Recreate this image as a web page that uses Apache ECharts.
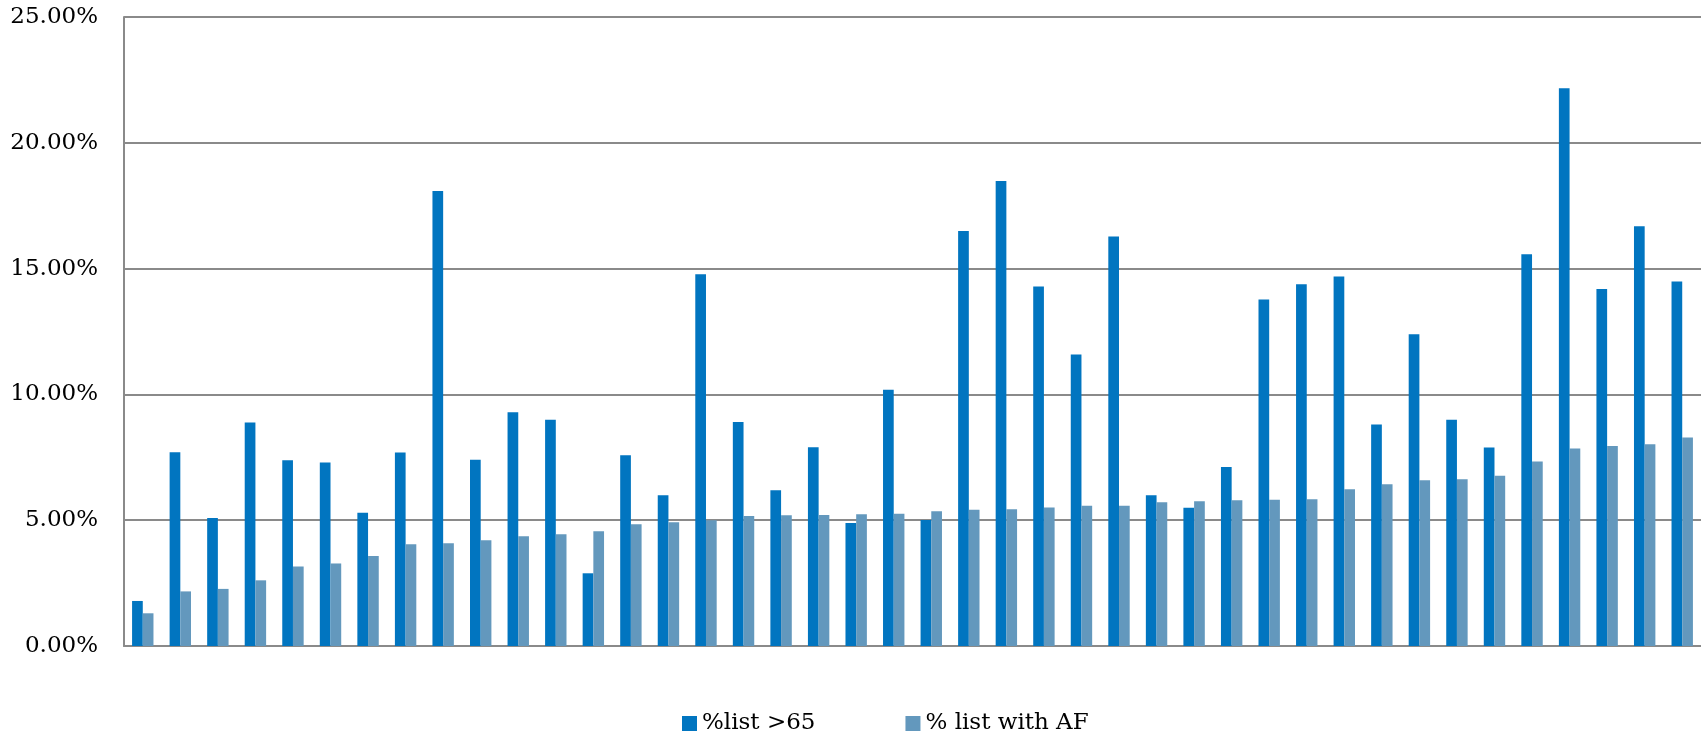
<!DOCTYPE html>
<html>
<head>
<meta charset="utf-8">
<script src="https://cdn.jsdelivr.net/npm/echarts@6/dist/echarts.min.js"></script>
<style>
html,body{margin:0;padding:0;background:#fff;}
#chart{width:1701px;height:733px;}
</style>
</head>
<body>
<div id="chart"></div>
<script>
const categories = ["1","2","3","4","5","6","7","8","9","10","11","12","13","14","15","16","17","18","19","20","21","22","23","24","25","26","27","28","29","30","31","32","33","34","35","36","37","38","39","40","41","42"];
const seriesNames = ["%list >65", "% list with AF"];
const listOver65 = [1.79,7.70,5.09,8.88,7.38,7.29,5.30,7.69,18.08,7.40,9.29,8.99,2.89,7.58,5.99,14.78,8.90,6.19,7.90,4.89,10.18,5.01,16.49,18.48,14.29,11.59,16.28,5.99,5.49,7.11,13.77,14.38,14.69,8.80,12.39,8.99,7.89,15.57,22.17,14.19,16.68,14.49];
const listWithAF = [1.30,2.17,2.27,2.61,3.16,3.28,3.58,4.04,4.08,4.20,4.36,4.44,4.56,4.84,4.92,5.00,5.17,5.20,5.21,5.24,5.26,5.36,5.42,5.44,5.50,5.57,5.57,5.71,5.75,5.79,5.81,5.83,6.23,6.43,6.59,6.63,6.77,7.33,7.85,7.95,8.02,8.29];
const yTicks = [0, 5, 10, 15, 20, 25];

const font = "'DejaVu Serif', Georgia, serif";
const chart = echarts.init(document.getElementById('chart'));
chart.setOption({
  animation: false,
  backgroundColor: '#ffffff',
  grid: { left: 124, right: 0, top: 17, bottom: 87, containLabel: false },
  legend: {
    data: seriesNames,
    left: 677,
    top: 705,
    itemWidth: 15,
    itemHeight: 15,
    itemGap: 90,
    icon: 'rect',
    textStyle: { fontFamily: font, fontSize: 23, color: '#000', lineHeight: 27 }
  },
  xAxis: {
    type: 'category',
    data: categories,
    axisLine: { show: true, lineStyle: { color: '#8a8a8a', width: 2 } },
    axisTick: { show: false },
    axisLabel: { show: false },
    splitLine: { show: false }
  },
  yAxis: {
    type: 'value',
    min: yTicks[0],
    max: yTicks[yTicks.length - 1],
    interval: 5,
    axisLine: { show: true, lineStyle: { color: '#8a8a8a', width: 2 } },
    axisTick: { show: false },
    axisLabel: {
      margin: 26,
      fontFamily: font,
      fontSize: 23,
      color: '#000',
      formatter: v => v.toFixed(2) + '%'
    },
    splitLine: { show: true, lineStyle: { color: '#8a8a8a', width: 2 } }
  },
  series: [
    {
      name: seriesNames[0],
      type: 'bar',
      data: listOver65,
      barWidth: '28.5%',
      barGap: '0%',
      itemStyle: { color: '#0175C0' }
    },
    {
      name: seriesNames[1],
      type: 'bar',
      data: listWithAF,
      barWidth: '28.5%',
      barGap: '0%',
      itemStyle: { color: '#6398BD' }
    }
  ]
});
</script>
</body>
</html>
